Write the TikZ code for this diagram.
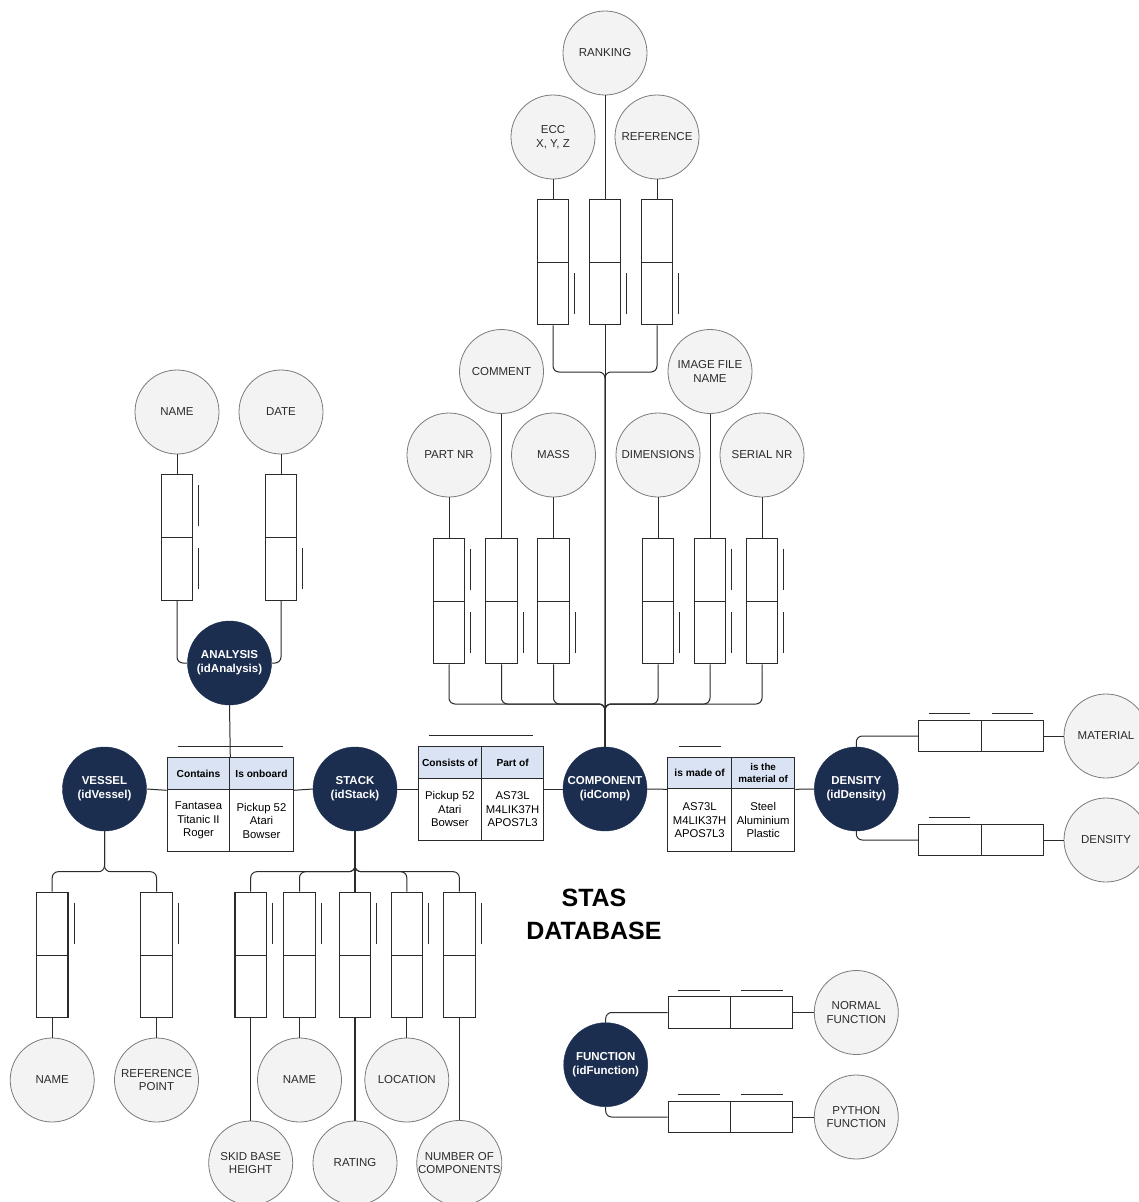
\documentclass[tikz,border=0pt]{standalone}
\usepackage{fontspec}
\setmainfont{Liberation Sans}
\usetikzlibrary{calc}
\definecolor{navy}{HTML}{1C2E50}
\definecolor{attrfill}{HTML}{F3F3F3}
\definecolor{attrline}{HTML}{7A7A7A}
\definecolor{ink}{HTML}{2B2B2B}
\definecolor{headfill}{HTML}{DAE3F3}

% short bars beside the attribute boxes
\newcommand\upmk[1]{\draw[mk] ([xshift=5.5pt,yshift=-11pt]#1.north east) -- ([xshift=5.5pt,yshift=-52pt]#1.north east);}
\newcommand\lowmk[1]{\draw[mk] ([xshift=5.5pt,yshift=-11pt]#1.east) -- ([xshift=5.5pt,yshift=-52pt]#1.east);}
% short bars above the horizontal boxes
\newcommand\leftovl[1]{\draw[mk] ([xshift=10.5pt,yshift=6pt]#1.north west) -- ([xshift=52pt,yshift=6pt]#1.north west);}
\newcommand\rightovl[1]{\draw[mk] ([xshift=10.5pt,yshift=6pt]#1.north) -- ([xshift=52pt,yshift=6pt]#1.north);}

\begin{document}
\begin{tikzpicture}[x=1pt,y=-1pt,
  entity/.style={circle, fill=navy, draw=navy, minimum size=84pt, inner sep=0pt, text=white,
    font=\fontsize{11.5}{14}\selectfont\bfseries, align=center},
  attr/.style={circle, fill=attrfill, draw=attrline, line width=0.8pt, minimum size=84pt, inner sep=0pt,
    text=ink, font=\fontsize{11.5}{13.5}\selectfont, align=center},
  vbox/.style={draw=ink, line width=1.1pt, fill=white, minimum width=31.5pt, minimum height=125.5pt, inner sep=0pt},
  hbox/.style={draw=ink, line width=1.1pt, fill=white, minimum width=124.6pt, minimum height=31.4pt, inner sep=0pt},
  link/.style={draw=ink, line width=1pt},
  elbow/.style={link, rounded corners=6pt},
  mk/.style={draw=ink, line width=1pt},
  hcell/.style={draw=ink, line width=1pt, fill=headfill, inner sep=0pt, anchor=north west, align=center,
    font=\fontsize{10.2}{12.5}\selectfont\bfseries},
  bcell/.style={draw=ink, line width=1pt, fill=white, inner sep=0pt, anchor=north west, align=center,
    font=\fontsize{11.3}{13.5}\selectfont},
]
\useasboundingbox (0,0) rectangle (1139,1202);

% ---------- entities ----------
\node[entity] (analysis)  at (229.5,663) {ANALYSIS\\(idAnalysis)};
\node[entity] (vessel)    at (104.5,789) {VESSEL\\(idVessel)};
\node[entity] (stack)     at (355,789)   {STACK\\(idStack)};
\node[entity] (component) at (605,789)   {COMPONENT\\(idComp)};
\node[entity] (density)   at (856.3,789) {DENSITY\\(idDensity)};
\node[entity] (function)  at (605.7,1064.7) {FUNCTION\\(idFunction)};

% ---------- component attributes ----------
\node[attr] (ranking)   at (605,53)    {RANKING};
\node[attr] (ecc)       at (553,137)   {ECC\\X, Y, Z};
\node[attr] (reference) at (657,137)   {REFERENCE};
\node[attr] (comment)   at (501.5,371.5) {COMMENT};
\node[attr] (imagefile) at (710,371.5) {IMAGE FILE\\NAME};
\node[attr] (partnr)    at (449,455)   {PART NR};
\node[attr] (mass)      at (553.5,455) {MASS};
\node[attr] (dimensions) at (658,455)  {DIMENSIONS};
\node[attr] (serialnr)  at (762,455)   {SERIAL NR};

\node[vbox] (tb1) at (553,262) {};
\node[vbox] (tb2) at (605,262) {};
\node[vbox] (tb3) at (657,262) {};
\node[vbox] (mb1) at (449,601) {};
\node[vbox] (mb2) at (501.5,601) {};
\node[vbox] (mb3) at (553.5,601) {};
\node[vbox] (mb4) at (658,601) {};
\node[vbox] (mb5) at (710,601) {};
\node[vbox] (mb6) at (762,601) {};

% ---------- analysis attributes ----------
\node[attr] (aname) at (177,412) {NAME};
\node[attr] (adate) at (281,412) {DATE};
\node[vbox] (ab1) at (177,537.3) {};
\node[vbox] (ab2) at (281,537.3) {};

% ---------- vessel attributes ----------
\node[vbox] (vb1) at (52.2,955) {};
\node[vbox] (vb2) at (156.5,955) {};
\node[attr] (vname) at (52.2,1080) {NAME};
\node[attr] (vref)  at (156.5,1080) {REFERENCE\\POINT};

% ---------- stack attributes ----------
\node[vbox] (sb1) at (250.7,955) {};
\node[vbox] (sb2) at (299.5,955) {};
\node[vbox] (sb3) at (355,955) {};
\node[vbox] (sb4) at (406.8,955) {};
\node[vbox] (sb5) at (459.3,955) {};
\node[attr] (sname)   at (299.5,1080) {NAME};
\node[attr] (sloc)    at (406.8,1080) {LOCATION};
\node[attr] (sskid)   at (250.7,1163) {SKID BASE\\HEIGHT};
\node[attr] (srating) at (355,1163)   {RATING};
\node[attr] (snum)    at (459.3,1163) {NUMBER OF\\COMPONENTS};

% ---------- density attributes ----------
\node[hbox] (db1) at (981,736) {};
\node[hbox] (db2) at (981,840) {};
\node[attr] (material) at (1106,736) {MATERIAL};
\node[attr] (densattr) at (1106,840) {DENSITY};

% ---------- function attributes ----------
\node[hbox] (fb1) at (730.5,1012.5) {};
\node[hbox] (fb2) at (730.5,1117) {};
\node[attr] (normal) at (856.3,1012.5) {NORMAL\\FUNCTION};
\node[attr] (python) at (856.3,1117)   {PYTHON\\FUNCTION};

% box dividers
\foreach \b in {tb1,tb2,tb3,mb1,mb2,mb3,mb4,mb5,mb6,ab1,ab2,vb1,vb2,sb1,sb2,sb3,sb4,sb5}
  \draw[link] (\b.west) -- (\b.east);
\foreach \b in {db1,db2,fb1,fb2}
  \draw[link] (\b.north) -- (\b.south);

% ---------- relationship tables ----------
% vessel -- stack
\node[hcell, minimum width=62.6pt, minimum height=32pt] (t1a) at (166.7,757.3) {Contains};
\node[hcell, minimum width=63.4pt, minimum height=32pt] (t1b) at (229.3,757.3) {Is onboard};
\node[bcell, minimum width=62.6pt, minimum height=61.4pt] (t1c) at (166.7,789.3) {Fantasea\\Titanic II\\Roger};
\node[bcell, minimum width=63.4pt, minimum height=61.4pt] (t1d) at (229.3,789.3) {Pickup 52\\Atari\\Bowser};
% stack -- component
\node[hcell, minimum width=63.3pt, minimum height=31.7pt] (t2a) at (417.7,746) {Consists of};
\node[hcell, minimum width=62.3pt, minimum height=31.7pt] (t2b) at (481,746) {Part of};
\node[bcell, minimum width=63.3pt, minimum height=62.3pt] (t2c) at (417.7,777.7) {Pickup 52\\Atari\\Bowser};
\node[bcell, minimum width=62.3pt, minimum height=62.3pt] (t2d) at (481,777.7) {AS73L\\M4LIK37H\\APOS7L3};
% component -- density
\node[hcell, minimum width=63.7pt, minimum height=31.6pt] (t3a) at (667.3,756.7) {is made of};
\node[hcell, minimum width=63.3pt, minimum height=31.6pt, font=\fontsize{9.8}{12}\selectfont\bfseries] (t3b) at (731,756.7) {is the\\material of};
\node[bcell, minimum width=63.7pt, minimum height=62.7pt] (t3c) at (667.3,788.3) {AS73L\\M4LIK37H\\APOS7L3};
\node[bcell, minimum width=63.3pt, minimum height=62.7pt] (t3d) at (731,788.3) {Steel\\Aluminium\\Plastic};

\draw[mk] ([xshift=11pt,yshift=11pt]t1a.north west) -- ([xshift=-11pt,yshift=11pt]t1b.north east);
\draw[mk] ([xshift=11pt,yshift=10.7pt]t2a.north west) -- ([xshift=-11pt,yshift=10.7pt]t2b.north east);
\draw[mk] ([xshift=11.7pt,yshift=10.7pt]t3a.north west) -- ([xshift=-11pt,yshift=10.7pt]t3a.north east);

% title
\node[font=\fontsize{25}{33}\selectfont\bfseries, align=center] (title) at (594,914) {STAS\\DATABASE};

% ---------- junction points ----------
\coordinate (tj) at (605,372);
\coordinate (mj) at (605,704);
\coordinate (vj) at (104.5,871.7);
\coordinate (sj) at (355,871.7);

% ---------- connectors ----------
% component branch
\draw[link] (ranking) -- (tb2);
\draw[link] (tb2) -- (component);
\draw[link] (ecc) -- (tb1);
\draw[link] (reference) -- (tb3);
\draw[elbow] (tb1.south) |- (tj) -- (component.north);
\draw[elbow] (tb3.south) |- (tj) -- (component.north);
\draw[link] (partnr) -- (mb1);
\draw[link] (comment) -- (mb2);
\draw[link] (mass) -- (mb3);
\draw[link] (dimensions) -- (mb4);
\draw[link] (imagefile) -- (mb5);
\draw[link] (serialnr) -- (mb6);
\foreach \b in {mb1,mb2,mb3,mb4,mb5,mb6}
  \draw[elbow] (\b.south) |- (mj) -- (component.north);

% analysis branch
\draw[link] (aname) -- (ab1);
\draw[link] (adate) -- (ab2);
\draw[elbow] (ab1.south) |- (analysis.west);
\draw[elbow] (ab2.south) |- (analysis.east);
\draw[link] (analysis.south) -- (t1a.north east);

% main row
\draw[link] (vessel.east) -- (t1a.south west);
\draw[link] (t1b.south east) -- (stack.west);
\draw[link] (stack.east) -- (stack.east -| t2c.west);
\draw[link] (t2d.east |- component.west) -- (component.west);
\draw[link] (component.east) -- (t3a.south west);
\draw[link] (t3b.south east) -- (density.west);

% vessel branch
\draw[elbow] (vb1.north) |- (vj) -- (vessel.south);
\draw[elbow] (vb2.north) |- (vj) -- (vessel.south);
\draw[link] (vb1) -- (vname);
\draw[link] (vb2) -- (vref);

% stack branch
\foreach \b in {sb1,sb2,sb4,sb5}
  \draw[elbow] (\b.north) |- (sj) -- (stack.south);
\draw[link, line width=1.4pt] (stack.south) -- (sb3.north);
\draw[link] (sb1) -- (sskid);
\draw[link] (sb2) -- (sname);
\draw[link, line width=1.4pt] (sb3) -- (srating);
\draw[link] (sb4) -- (sloc);
\draw[link] (sb5) -- (snum);

% density branch
\draw[elbow] (density.north) |- (db1.west);
\draw[elbow] (density.south) |- (db2.west);
\draw[link] (db1) -- (material);
\draw[link] (db2) -- (densattr);

% function branch
\draw[elbow] (function.north) |- (fb1.west);
\draw[elbow] (function.south) |- (fb2.west);
\draw[link] (fb1) -- (normal);
\draw[link] (fb2) -- (python);

% ---------- bars ----------
\lowmk{tb1}\lowmk{tb2}\lowmk{tb3}
\upmk{mb1}\lowmk{mb1}\lowmk{mb2}\lowmk{mb3}\lowmk{mb4}
\upmk{mb5}\lowmk{mb5}\upmk{mb6}\lowmk{mb6}
\upmk{ab1}\lowmk{ab1}\lowmk{ab2}
\upmk{vb1}\upmk{vb2}
\upmk{sb1}\upmk{sb2}\upmk{sb3}\upmk{sb4}\upmk{sb5}
\leftovl{db1}\rightovl{db1}\leftovl{db2}
\leftovl{fb1}\rightovl{fb1}\leftovl{fb2}\rightovl{fb2}
\end{tikzpicture}
\end{document}
